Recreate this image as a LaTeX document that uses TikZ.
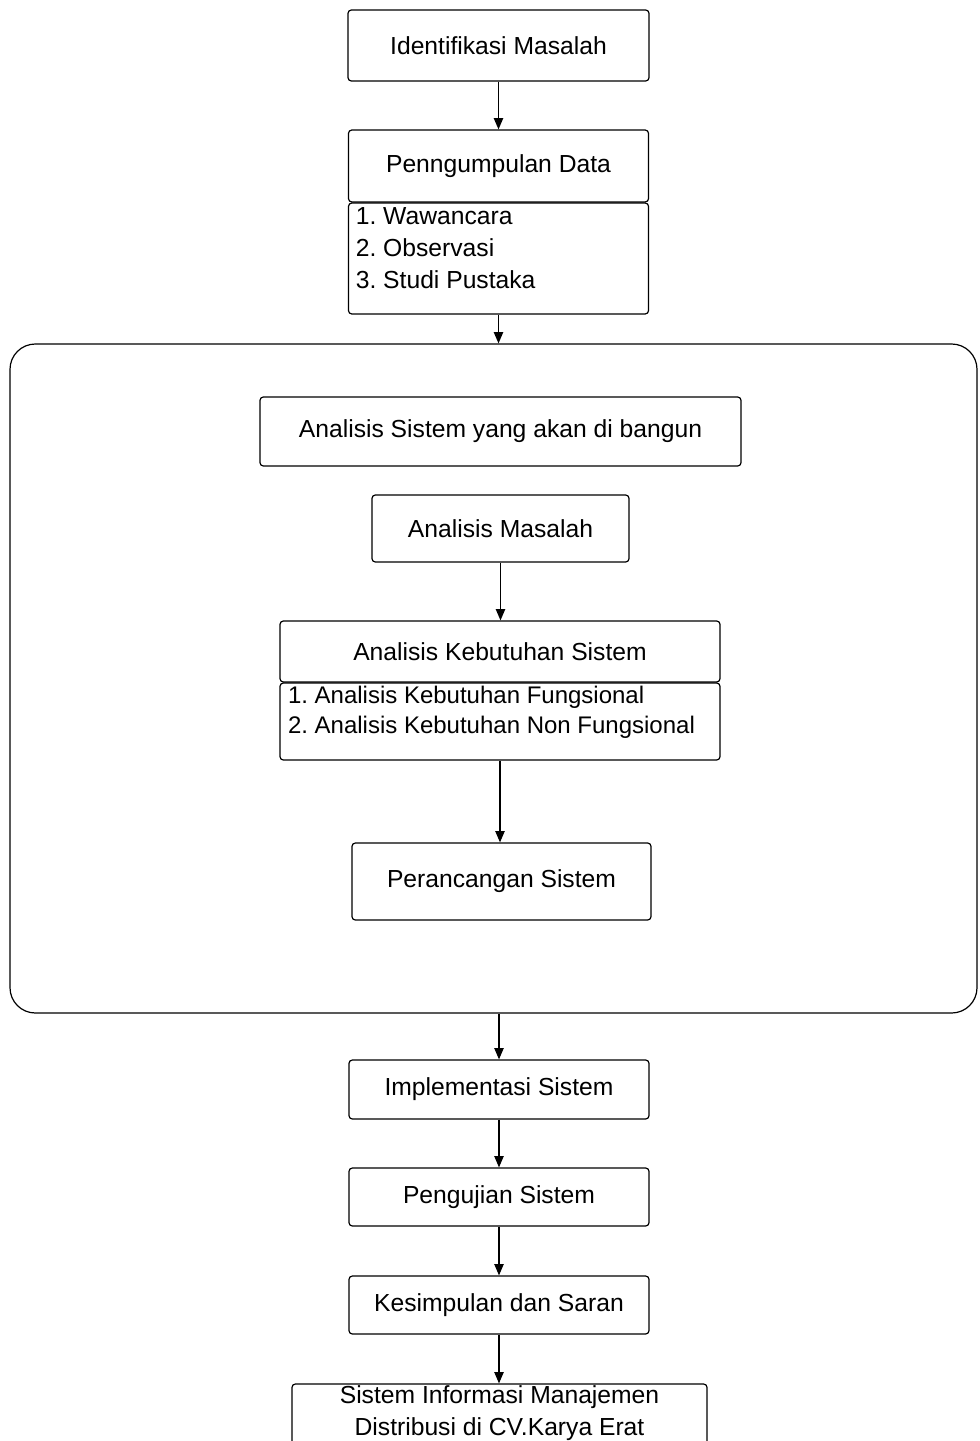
\documentclass[tikz,border=0pt]{standalone}
\usepackage{fontspec}
\setmainfont{Liberation Sans}
\usetikzlibrary{arrows.meta}
\frenchspacing
\begin{document}
\begin{tikzpicture}[x=0.75pt,y=-0.75pt,
  box/.style={draw, line width=0.9pt, rounded corners=2.5pt, inner sep=0pt, align=center,
    font=\fontsize{18.5}{24}\selectfont},
  arr/.style={line width=1pt, -{Triangle[length=8.5pt,width=7pt]}},
  frm/.style={draw, line width=0.9pt, rounded corners=19pt, inner sep=0pt}]
\clip (0,0) rectangle (979,1441);
\useasboundingbox (0,0) rectangle (979,1441);
\fill[white] (0,0) rectangle (979,1441);

\node[box, minimum width=225.75pt, minimum height=53.25pt] (idm) at (498.5,45.5) {Identifikasi Masalah};
\node[box, minimum width=225pt, minimum height=54pt] (pd) at (498.5,166) {Penngumpulan Data};
\node[box, minimum width=225pt, minimum height=83.25pt] (pdl) at (498.5,258.5)
  {\parbox[c][82pt][t]{214pt}{\raggedright\frenchspacing\fontsize{18.5}{24}\selectfont\vspace*{2.5pt}1. Wawancara\\2. Observasi\\3. Studi Pustaka}};

\node[frm, minimum width=725.25pt, minimum height=501.75pt] (frame) at (493.5,678.5) {};

\node[box, minimum width=360.75pt, minimum height=51.75pt] (asb) at (500.5,431.5) {Analisis Sistem yang akan di bangun};
\node[box, minimum width=192.75pt, minimum height=50.25pt] (am) at (500.5,528.5) {Analisis Masalah};
\node[box, minimum width=330pt, minimum height=45.75pt] (aks) at (500,651.5) {Analisis Kebutuhan Sistem};
\node[box, minimum width=330pt, minimum height=57.75pt] (aksl) at (500,721.5)
  {\parbox[c][56pt][t]{318pt}{\raggedright\frenchspacing\fontsize{18}{22.5}\selectfont\vspace*{1.5pt}1. Analisis Kebutuhan Fungsional\\2. Analisis Kebutuhan Non Fungsional}};
\node[box, minimum width=224.25pt, minimum height=57.75pt] (ps) at (501.5,881.5) {Perancangan Sistem};

\node[box, minimum width=225pt, minimum height=44.25pt] (is) at (499,1089.5) {Implementasi Sistem};
\node[box, minimum width=225pt, minimum height=43.5pt] (pgs) at (499,1197) {Pengujian Sistem};
\node[box, minimum width=225pt, minimum height=43.5pt] (ks) at (499,1305) {Kesimpulan dan Saran};
\node[box, minimum width=311.25pt, minimum height=64.5pt] (sim) at (499.5,1427)
  {\parbox[c][63pt][t]{300pt}{\centering\fontsize{18.5}{24}\selectfont\vspace*{0.5pt}Sistem Informasi Manajemen\\Distribusi di CV.Karya Erat}};

\draw[arr] (idm.south) -- (idm.south |- pd.north);
\draw[arr] (pdl.south) -- (pdl.south |- frame.north);
\draw[arr] (am.south) -- (am.south |- aks.north);
\draw[arr] (aksl.south) -- (aksl.south |- ps.north);
\draw[arr] (is.north |- frame.south) -- (is.north);
\draw[arr] (is.south) -- (pgs.north);
\draw[arr] (pgs.south) -- (ks.north);
\draw[arr] (ks.south) -- (ks.south |- sim.north);
\end{tikzpicture}
\end{document}
